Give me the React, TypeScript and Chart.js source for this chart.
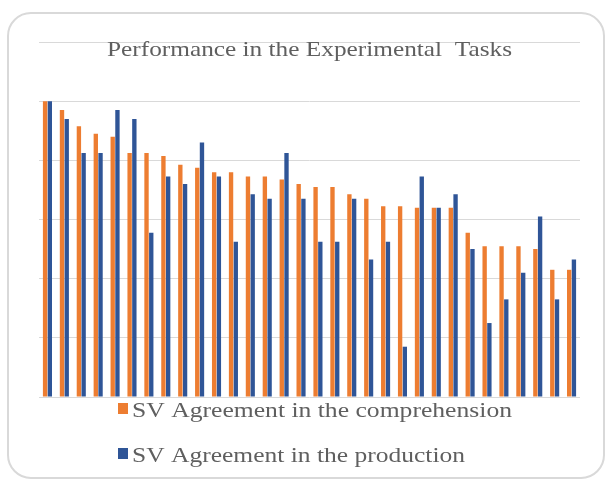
import React, { useEffect, useRef } from "react";
import { Chart, registerables } from "chart.js";

Chart.register(...registerables);

const categories = Array.from({ length: 32 }, (_, i) => String(i + 1));
const comprehension = [100, 97, 91.5, 89, 88, 82.5, 82.5, 81.5, 78.5, 77.5, 76, 76, 74.5, 74.5, 73.5, 72, 71, 71, 68.5, 67, 64.5, 64.5, 64, 64, 64, 55.5, 51, 51, 51, 50, 43, 43];
const production = [100, 94, 82.5, 82.5, 97, 94, 55.5, 74.5, 72, 86, 74.5, 52.5, 68.5, 67, 82.5, 67, 52.5, 52.5, 67, 46.5, 52.5, 17, 74.5, 64, 68.5, 50, 25, 33, 42, 61, 33, 46.5];
const seriesNames = ["SV Agreement in the comprehension", "SV Agreement in the production"];
const seriesColors = ["#ED7D31", "#2F5597"];
const titleText = "Performance in the Experimental  Tasks";

const FONT = "'Liberation Serif', serif";

function drawStretched(ctx: CanvasRenderingContext2D, text: string, x: number, y: number, size: number, targetWidth: number, align: "left" | "center") {
  ctx.save();
  ctx.font = `${size}px ${FONT}`;
  const w = ctx.measureText(text).width;
  const sx = targetWidth / w;
  ctx.textBaseline = "alphabetic";
  ctx.textAlign = align;
  ctx.translate(x, y);
  ctx.scale(sx, 1);
  ctx.fillText(text, 0, 0);
  ctx.restore();
}

const overlayPlugin = {
  id: "overlay",
  afterDraw(chart: any) {
    const ctx: CanvasRenderingContext2D = chart.ctx;
    ctx.save();
    ctx.fillStyle = "#5f5f5f";
    drawStretched(ctx, titleText, 309.5, 56, 21, 405, "center");
    const rows = [
      { y: 417, box: 403, w: 380 },
      { y: 462, box: 448, w: 333 },
    ];
    rows.forEach((r, i) => {
      ctx.fillStyle = seriesColors[i];
      ctx.fillRect(118, r.box, 10, 11);
      ctx.fillStyle = "#5f5f5f";
      drawStretched(ctx, seriesNames[i], 132, r.y, 22, r.w, "left");
    });
    ctx.restore();
  },
};

export default function App() {
  const ref = useRef<HTMLCanvasElement | null>(null);
  useEffect(() => {
    if (!ref.current) return;
    const chart = new Chart(ref.current, {
      type: "bar",
      data: {
        labels: categories,
        datasets: [
          { label: seriesNames[0], data: comprehension, backgroundColor: seriesColors[0], borderWidth: 0 },
          { label: seriesNames[1], data: production, backgroundColor: seriesColors[1], borderWidth: 0 },
        ],
      },
      options: {
        responsive: false,
        animation: false,
        layout: { padding: { left: 39, right: 28, top: 42, bottom: 87 } },
        datasets: { bar: { categoryPercentage: 0.56, barPercentage: 0.92 } } as any,
        plugins: {
          legend: { display: false },
          title: { display: false },
          tooltip: { enabled: false },
        },
        scales: {
          x: { display: false },
          y: {
            min: 0,
            max: 120,
            ticks: { display: false, stepSize: 20 },
            grid: { color: "#d9d9d9", lineWidth: 1, drawTicks: false },
            border: { display: false },
          },
        },
      },
      plugins: [overlayPlugin],
    });
    return () => chart.destroy();
  }, []);

  return (
    <div style={{ position: "fixed", left: 0, top: 0, width: 608, height: 484, background: "#fff" }}>
      <div
        style={{
          position: "absolute",
          left: 7,
          top: 12,
          width: 594,
          height: 463,
          border: "2px solid #d9d9d9",
          borderRadius: 24,
          boxSizing: "content-box",
        }}
      />
      <canvas ref={ref} width={608} height={484} style={{ position: "absolute", left: 0, top: 0 }} />
    </div>
  );
}
